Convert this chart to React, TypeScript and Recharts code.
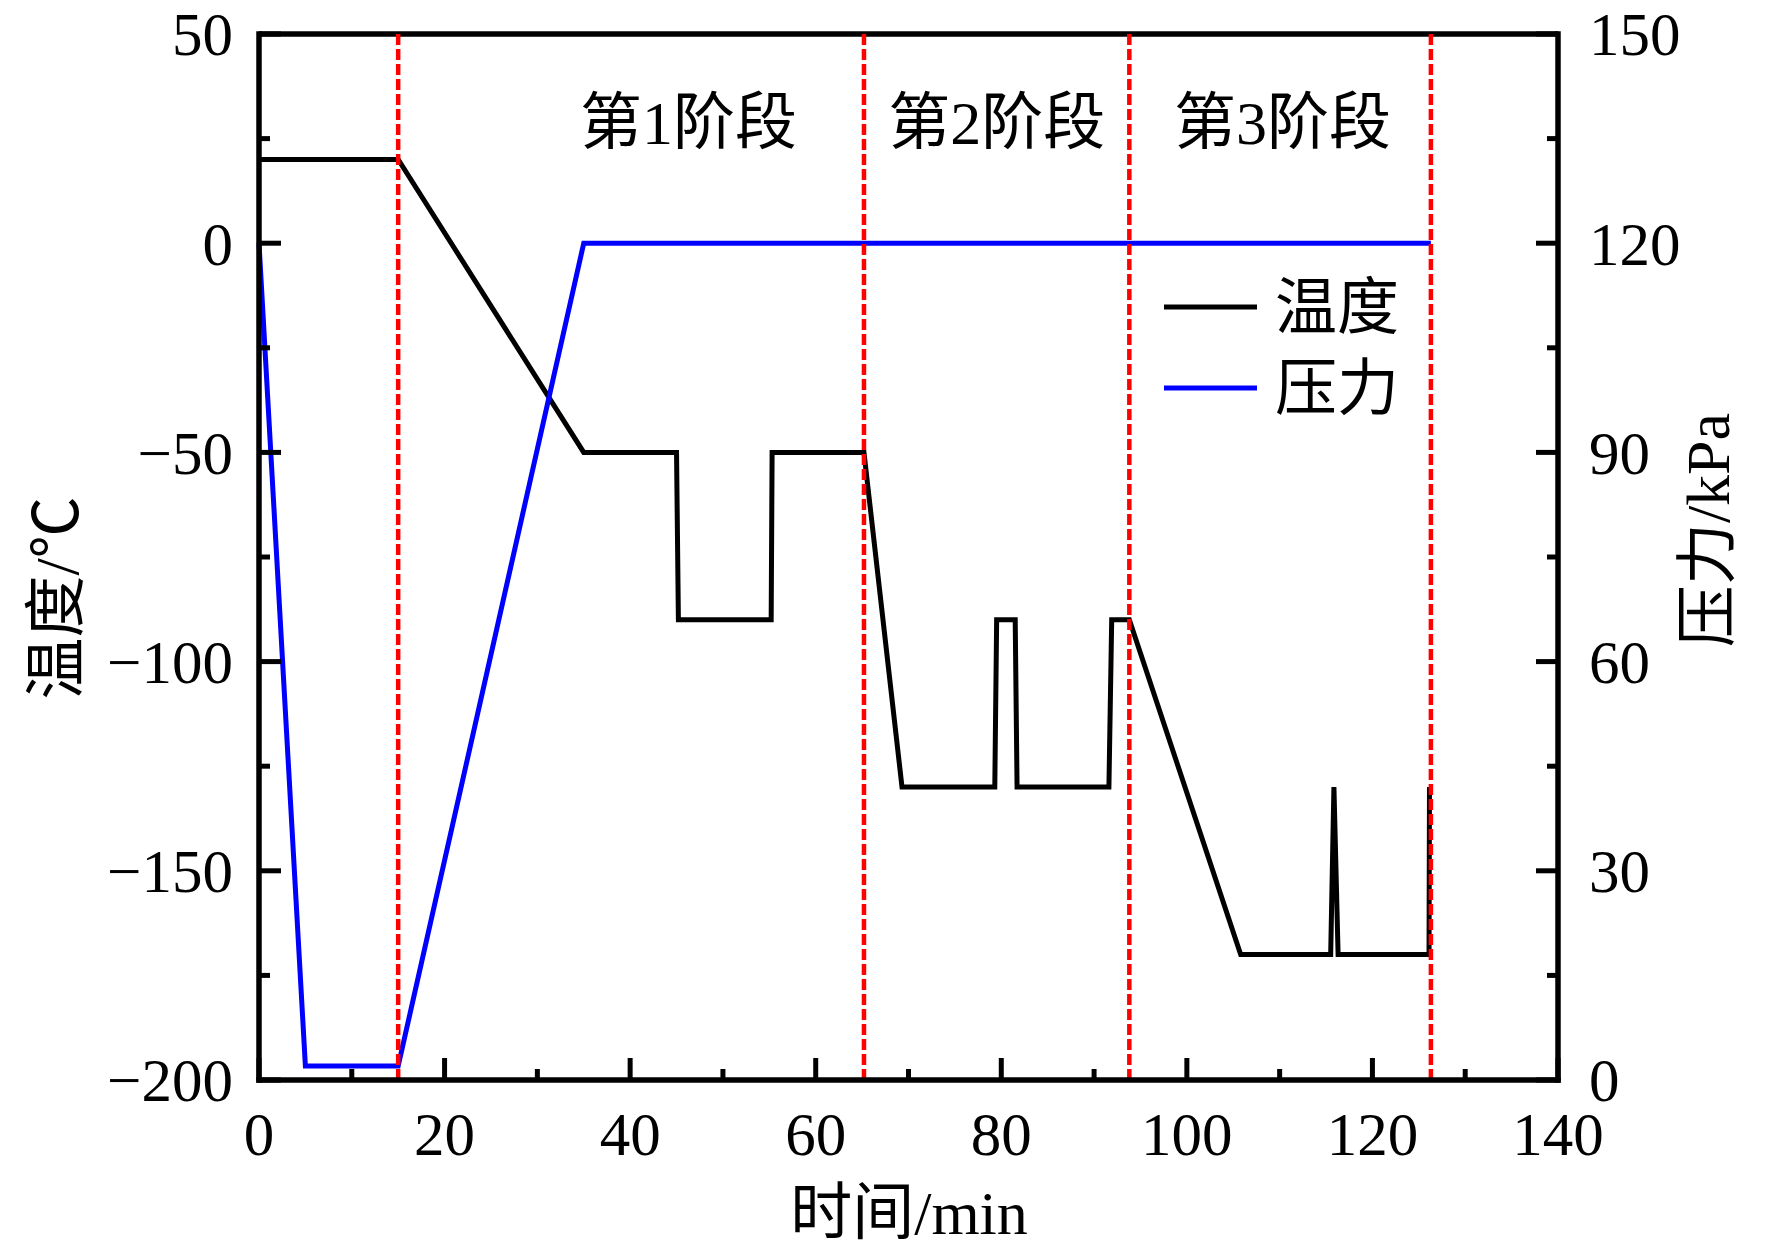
import React from 'react';
import { LineChart, Line, XAxis, YAxis, ReferenceLine, ReferenceDot, Legend } from 'recharts';

// ---- data ----
const timeTemp = [0, 15, 35, 45, 45.2, 55.2, 55.3, 65.2, 69.3, 79.3, 79.5, 81.5, 81.7, 91.6, 91.9, 93.8, 105.8, 115.5, 115.85, 116.3, 126.1, 126.15];
const temperature = [20, 20, -50, -50, -90, -90, -50, -50, -130, -130, -90, -90, -130, -130, -90, -90, -170, -170, -130, -170, -170, -130];
const timePressure = [0, 5, 15, 35, 126.3];
const pressure = [120, 2, 2, 120, 120];
const stageBoundaries = [15, 65.2, 93.8, 126.3];
const stageLabels = ['第1阶段', '第2阶段', '第3阶段'];
const stageLabelX = [46.3, 79.5, 110.3];
const stageLabelY = [29, 29, 29];
const timeMajorTicks = [0, 20, 40, 60, 80, 100, 120, 140];
const timeMajorLabels = ['0', '20', '40', '60', '80', '100', '120', '140'];
const timeMinorTicks = [10, 30, 50, 70, 90, 110, 130];
const tempMajorTicks = [-200, -150, -100, -50, 0, 50];
const tempMajorLabels = ['−200', '−150', '−100', '−50', '0', '50'];
const tempMinorTicks = [-175, -125, -75, -25, 25];
const pressureMajorTicks = [0, 30, 60, 90, 120, 150];
const pressureMajorLabels = ['0', '30', '60', '90', '120', '150'];
const pressureMinorTicks = [15, 45, 75, 105, 135];
const seriesNames = ['温度', '压力'];
const seriesColors = ['#000000', '#0000ff'];
const axisTitles = ['时间/min', '温度/℃', '压力/kPa'];

const tempData = timeTemp.map((t, i) => ({ t, temp: temperature[i] }));
const pressureData = timePressure.map((t, i) => ({ t, p: pressure[i] }));

const FONT = "'Liberation Serif', 'Times New Roman', 'Noto Sans CJK SC', serif";
const TICK_FS = 61;
const TEXT_FS = 62;
const AXIS_W = 5.5;
const TICK_W = 5;
const LINE_W = 5;

const sortNum = (a: number[]) => [...a].sort((x, y) => x - y);

const makeTick = (orient: 'left' | 'right' | 'bottom', majors: number[], labels: string[]) => (props: any) => {
  const { x, y, payload } = props;
  const v = payload.value;
  const idx = majors.indexOf(v);
  const major = idx >= 0;
  const len = major ? 22 : 11;
  const common = { fontFamily: FONT, fontSize: TICK_FS, fill: '#000' };
  if (orient === 'left') {
    return (
      <g>
        <line x1={x} x2={x + len} y1={y} y2={y} stroke="#000" strokeWidth={TICK_W} />
        {major && (
          <text x={x - 26} y={y} dy="0.35em" textAnchor="end" {...common}>{labels[idx]}</text>
        )}
      </g>
    );
  }
  if (orient === 'right') {
    return (
      <g>
        <line x1={x} x2={x - len} y1={y} y2={y} stroke="#000" strokeWidth={TICK_W} />
        {major && (
          <text x={x + 31} y={y} dy="0.35em" textAnchor="start" {...common}>{labels[idx]}</text>
        )}
      </g>
    );
  }
  return (
    <g>
      <line x1={x} x2={x} y1={y} y2={y - len} stroke="#000" strokeWidth={TICK_W} />
      {major && (
        <text x={x} y={y + 75} textAnchor="middle" {...common}>{labels[idx]}</text>
      )}
    </g>
  );
};

const LegendContent = () => (
  <svg width={320} height={190}>
    <line x1={16} x2={109} y1={59} y2={59} stroke={seriesColors[0]} strokeWidth={LINE_W} />
    <text x={127} y={59} dy="0.36em" fontFamily={FONT} fontSize={TEXT_FS} fill="#000">{seriesNames[0]}</text>
    <line x1={16} x2={109} y1={140} y2={140} stroke={seriesColors[1]} strokeWidth={LINE_W} />
    <text x={127} y={140} dy="0.36em" fontFamily={FONT} fontSize={TEXT_FS} fill="#000">{seriesNames[1]}</text>
  </svg>
);

export default function App() {
  return (
    <div style={{ width: 1772, height: 1250, position: 'relative', marginTop: -8, marginLeft: -8 }}>
      <LineChart width={1772} height={1250} margin={{ top: 34, left: 29, right: 34, bottom: 20 }}>
        <XAxis
          dataKey="t"
          type="number"
          domain={[0, 140]}
          ticks={sortNum([...timeMajorTicks, ...timeMinorTicks])}
          interval={0}
          tickSize={0}
          tickMargin={0}
          height={150}
          axisLine={{ stroke: '#000', strokeWidth: AXIS_W, strokeLinecap: 'square' }}
          tick={makeTick('bottom', timeMajorTicks, timeMajorLabels)}
          label={{
            content: () => (
              <text x={909} y={1212} dy="0.36em" textAnchor="middle" fontFamily={FONT} fontSize={TEXT_FS} fill="#000">
                {axisTitles[0]}
              </text>
            ),
          }}
        />
        <YAxis
          yAxisId="left"
          orientation="left"
          type="number"
          domain={[-200, 50]}
          ticks={sortNum([...tempMajorTicks, ...tempMinorTicks])}
          interval={0}
          tickSize={0}
          tickMargin={0}
          width={230}
          axisLine={{ stroke: '#000', strokeWidth: AXIS_W, strokeLinecap: 'square' }}
          tick={makeTick('left', tempMajorTicks, tempMajorLabels)}
          label={{
            content: () => (
              <text
                x={56}
                y={598}
                dy="0.36em"
                textAnchor="middle"
                transform="rotate(-90 56 598)"
                fontFamily={FONT}
                fontSize={TEXT_FS}
                fill="#000"
              >
                {axisTitles[1]}
              </text>
            ),
          }}
        />
        <YAxis
          yAxisId="right"
          orientation="right"
          type="number"
          domain={[0, 150]}
          ticks={sortNum([...pressureMajorTicks, ...pressureMinorTicks])}
          interval={0}
          tickSize={0}
          tickMargin={0}
          width={180}
          axisLine={{ stroke: '#000', strokeWidth: AXIS_W, strokeLinecap: 'square' }}
          tick={makeTick('right', pressureMajorTicks, pressureMajorLabels)}
          label={{
            content: () => (
              <text
                x={1707}
                y={530}
                dy="0.36em"
                textAnchor="middle"
                transform="rotate(-90 1707 530)"
                fontFamily={FONT}
                fontSize={TEXT_FS}
                fill="#000"
              >
                {axisTitles[2]}
              </text>
            ),
          }}
        />
        <ReferenceLine yAxisId="left" y={50} stroke="#000" strokeWidth={AXIS_W} />
        <Line
          data={tempData}
          dataKey="temp"
          yAxisId="left"
          type="linear"
          stroke={seriesColors[0]}
          strokeWidth={LINE_W}
          dot={false}
          activeDot={false}
          isAnimationActive={false}
          name={seriesNames[0]}
        />
        <Line
          data={pressureData}
          dataKey="p"
          yAxisId="right"
          type="linear"
          stroke={seriesColors[1]}
          strokeWidth={LINE_W}
          dot={false}
          activeDot={false}
          isAnimationActive={false}
          name={seriesNames[1]}
        />
        {stageBoundaries.map((b) => (
          <ReferenceLine key={b} x={b} yAxisId="left" stroke="#ff0000" strokeWidth={4.5} strokeDasharray="11 4" />
        ))}
        {stageLabels.map((s, i) => (
          <ReferenceDot
            key={s}
            x={stageLabelX[i]}
            y={stageLabelY[i]}
            yAxisId="left"
            r={0}
            fill="none"
            stroke="none"
            label={{ value: s, position: 'center', fontSize: TEXT_FS, fill: '#000', fontFamily: FONT }}
          />
        ))}
        <Legend
          layout="horizontal"
          verticalAlign="middle"
          align="center"
          wrapperStyle={{ position: 'absolute', left: 1148, top: 248, width: 320, height: 190 }}
          content={LegendContent}
        />
      </LineChart>
    </div>
  );
}
